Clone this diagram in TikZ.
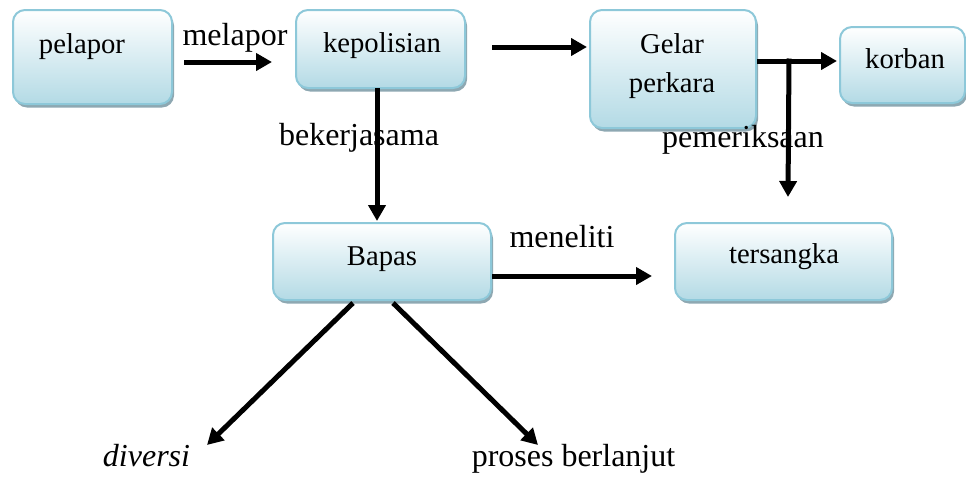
\documentclass[tikz,border=0pt]{standalone}
\usepackage{fontspec}
\setmainfont{Liberation Serif}
\usetikzlibrary{arrows.meta,shadows,calc}
\definecolor{boxedge}{HTML}{8DC8D9}
\definecolor{boxbot}{HTML}{B3DAE5}
\definecolor{shadowc}{HTML}{8EA8B2}
\begin{document}
\begin{tikzpicture}[x=1pt,y=-1pt,
  box/.style={draw=boxedge, line width=2pt, rounded corners=12pt,
    top color=white, bottom color=boxbot,
    drop shadow={shadow xshift=2pt, shadow yshift=-3.5pt, fill=shadowc, opacity=1},
    inner sep=0pt},
  lbl/.style={anchor=base, inner sep=0pt, font=\fontsize{32}{39}\selectfont},
  boxtxt/.style={anchor=base, inner sep=0pt, font=\fontsize{28.7}{39}\selectfont},
  arr/.style={line width=5pt, -{Triangle[length=16pt,width=17pt]}}]
\useasboundingbox (0,0) rectangle (966,477);

% boxes
\node[box, minimum width=159pt, minimum height=94pt] (pelapor) at (92.5,57) {};
\node[box, minimum width=169pt, minimum height=78pt] (kepolisian) at (380.5,49) {};
\node[box, minimum width=166pt, minimum height=118pt] (gelar) at (673,69) {};
\node[box, minimum width=125pt, minimum height=76pt] (korban) at (902.5,65) {};
\node[box, minimum width=218pt, minimum height=77pt] (bapas) at (382,261.5) {};
\node[box, minimum width=217pt, minimum height=77pt] (tersangka) at (783.5,261.5) {};

% box texts
\node[boxtxt] (tpelapor) at (82,53) {pelapor};
\node[boxtxt] (tkepolisian) at (382,52) {kepolisian};
\node[boxtxt] (tgelar) at (672,53) {Gelar};
\node[boxtxt] (tperkara) at (672,92) {perkara};
\node[boxtxt] (tkorban) at (905,68) {korban};
\node[boxtxt] (tbapas) at (382,265) {Bapas};
\node[boxtxt] (ttersangka) at (784,263) {tersangka};

% free labels
\node[lbl] (lmelapor) at (235,45.5) {melapor};
\node[lbl] (lbekerja) at (359,145) {bekerjasama};
\node[lbl] (lperiksa) at (743,147) {pemeriksaan};
\node[lbl] (lmeneliti) at (562,247) {meneliti};
\node[lbl] (tdiversi) at (146.5,466) {\itshape diversi};
\node[lbl] (tproses) at (573.5,466) {proses berlanjut};

\coordinate (pemEnd) at (788,197);

% connectors
\draw[arr] ($(pelapor.east)+(11,5)$) -- ($(kepolisian.west)+(-23,13)$);
\draw[arr] ($(kepolisian.east)+(26,-2)$) -- ($(gelar.west)+(-2,-22)$);
\draw[arr] ($(gelar.east)+(0,-8)$) -- ($(korban.west)+(-2,-4)$);
\draw[arr] ($(gelar.east)+(32,-10.5)$) -- (pemEnd);
\draw[arr] ($(kepolisian.south)+(-3.5,-1)$) -- ($(bapas.north)+(-5,-1)$);
\draw[arr] ($(bapas.east)+(0,14.5)$) -- ($(tersangka.west)+(-22,14.5)$);
\draw[arr] ($(bapas.south)+(-29,2)$) -- ($(tdiversi.base)+(60.5,-21)$);
\draw[arr] ($(bapas.south)+(11,2)$) -- ($(tproses.base)+(-35.5,-21)$);
\end{tikzpicture}
\end{document}
